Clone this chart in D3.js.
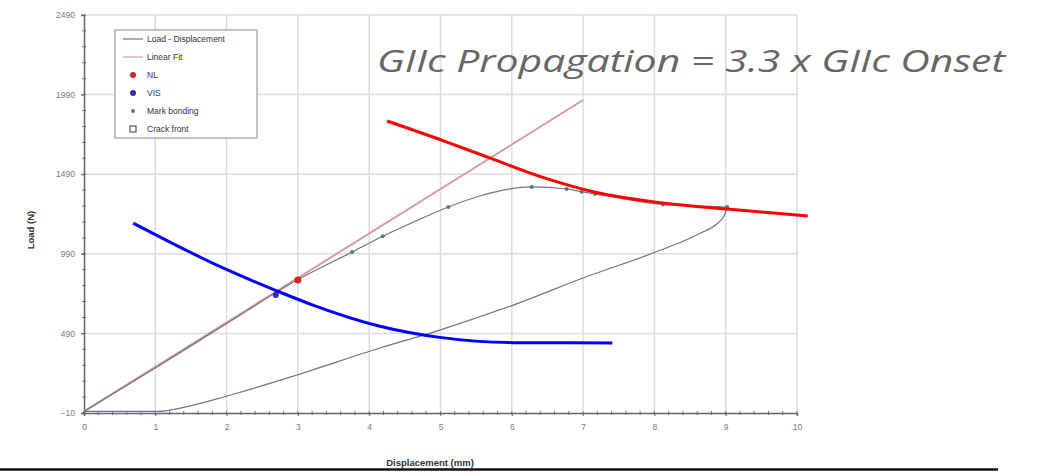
<!DOCTYPE html>
<html lang="en">
<head>
<meta charset="utf-8">
<script src="https://d3js.org/d3.v7.min.js"></script>
<style>
  body { margin: 0; background: #fff; }
  svg text { font-family: "Liberation Sans", Arial, sans-serif; }
</style>
</head>
<body>
<div id="chart"></div>

<script>
  // axis ticks
  var xTicks = [0, 1, 2, 3, 4, 5, 6, 7, 8, 9, 10]
  var yTicks = [-10, 490, 990, 1490, 1990, 2490]

  // load - displacement curve, mm / N
  var loading = [
    [0, 0], [1, 272], [2, 552], [3, 828], [3.76, 1001], [4.19, 1100],
    [4.6, 1185], [5.11, 1284], [5.55, 1353], [6.28, 1410], [6.77, 1397],
    [6.98, 1380], [7.17, 1366], [8.12, 1300], [9.02, 1284]
  ]
  var unloading = [
    [0, 0], [1.05, 0], [1.35, 21], [2.01, 97], [2.99, 229], [4.15, 398],
    [4.99, 511], [6.02, 668], [7.0, 838], [7.98, 995], [8.6, 1110],
    [8.88, 1180], [8.98, 1230], [9.02, 1284]
  ]
  var linearFit = [[0, 0], [7.0, 1956]]
  var nlPoints = [[3.0, 825]]
  var visPoints = [[2.69, 731]]
  var markBonding = [
    [3.76, 1001], [4.19, 1100], [5.11, 1284], [6.28, 1410], [6.77, 1397],
    [6.98, 1380], [7.17, 1366], [8.12, 1300], [9.02, 1284]
  ]
  var crackFront = []

  // hand drawn annotation curves
  var propCurve = [
    [4.25, 1824], [5.09, 1692], [5.69, 1592], [6.49, 1462], [7.14, 1380],
    [8.12, 1309], [9.02, 1271], [10.15, 1227]
  ]
  var onsetCurve = [
    [0.69, 1183], [1.95, 901], [2.71, 756], [3.21, 668], [4.15, 535],
    [4.99, 465], [6.02, 432], [7.41, 430]
  ]

  var legendItems = ["Load - Displacement", "Linear Fit", "NL", "VIS", "Mark bonding", "Crack front"]

  var W = 1041, H = 476
  var svg = d3.select('#chart').append('svg').attr('width', W).attr('height', H)

  var x = d3.scaleLinear().domain([0, 10]).range([84, 797])
  var y = d3.scaleLinear().domain([-10, 2490]).range([413, 15])

  // grid
  svg.append('g').selectAll('line.gx')
    .data(xTicks.slice(1)).enter().append('line')
    .attr('x1', function(d){ return x(d) }).attr('x2', function(d){ return x(d) })
    .attr('y1', y(2490)).attr('y2', y(-10))
    .attr('stroke', '#dcdcdc').attr('stroke-width', 1.5)
  svg.append('g').selectAll('line.gy')
    .data(yTicks.slice(1)).enter().append('line')
    .attr('x1', x(0)).attr('x2', x(10))
    .attr('y1', function(d){ return y(d) }).attr('y2', function(d){ return y(d) })
    .attr('stroke', '#dcdcdc').attr('stroke-width', 1.5)

  // minor ticks
  var xMinor = d3.range(0, 10.001, 0.2)
  var yMinor = d3.range(-10, 2490.001, 100)
  svg.append('g').selectAll('line')
    .data(xMinor).enter().append('line')
    .attr('x1', function(d){ return x(d) }).attr('x2', function(d){ return x(d) })
    .attr('y1', y(-10) - 2).attr('y2', y(-10) + 2)
    .attr('stroke', '#777').attr('stroke-width', 1)
  svg.append('g').selectAll('line')
    .data(yMinor).enter().append('line')
    .attr('x1', x(0) - 2).attr('x2', x(0) + 2)
    .attr('y1', function(d){ return y(d) }).attr('y2', function(d){ return y(d) })
    .attr('stroke', '#777').attr('stroke-width', 1)

  // axes
  var xAxis = svg.append('g').attr('transform', 'translate(0,' + y(-10) + ')')
    .call(d3.axisBottom(x).tickValues(xTicks).tickSize(3).tickPadding(8).tickFormat(d3.format('d')))
  var yAxis = svg.append('g').attr('transform', 'translate(' + x(0) + ',0)')
    .call(d3.axisLeft(y).tickValues(yTicks).tickSize(3).tickPadding(6).tickFormat(d3.format('d')))
  ;[xAxis, yAxis].forEach(function(a){
    a.select('.domain').attr('stroke', '#666').attr('stroke-width', 1.5)
    a.selectAll('.tick line').attr('stroke', '#666')
    a.selectAll('.tick text').attr('fill', '#777').style('font-size', '8.5px')
  })

  // axis titles
  svg.append('text').attr('x', 430).attr('y', 466).attr('text-anchor', 'middle')
    .style('font-size', '9.5px').style('font-weight', 'bold').attr('fill', '#333')
    .text('Displacement (mm)')
  svg.append('text').attr('transform', 'translate(34,230) rotate(-90)').attr('text-anchor', 'middle')
    .style('font-size', '9.5px').style('font-weight', 'bold').attr('fill', '#333')
    .text('Load (N)')

  // bottom rule
  svg.append('line').attr('x1', 0).attr('x2', 998).attr('y1', 469.5).attr('y2', 469.5)
    .attr('stroke', '#111').attr('stroke-width', 2.5)

  var line = d3.line().x(function(d){ return x(d[0]) }).y(function(d){ return y(d[1]) })
  var mono = d3.line().x(function(d){ return x(d[0]) }).y(function(d){ return y(d[1]) })
    .curve(d3.curveMonotoneX)

  // linear fit
  svg.append('path').datum(linearFit).attr('d', line)
    .attr('fill', 'none').attr('stroke', '#d99aa2').attr('stroke-width', 2)

  // load displacement
  ;[loading, unloading].forEach(function(seg){
    svg.append('path').datum(seg).attr('d', mono)
      .attr('fill', 'none').attr('stroke', '#72728a').attr('stroke-width', 1.2)
  })

  // markers
  svg.append('g').selectAll('circle').data(markBonding).enter().append('circle')
    .attr('cx', function(d){ return x(d[0]) }).attr('cy', function(d){ return y(d[1]) })
    .attr('r', 2).attr('fill', '#5a7a6a')
  svg.append('g').selectAll('circle').data(nlPoints).enter().append('circle')
    .attr('cx', function(d){ return x(d[0]) }).attr('cy', function(d){ return y(d[1]) })
    .attr('r', 3.5).attr('fill', '#d42020')
  svg.append('g').selectAll('circle').data(visPoints).enter().append('circle')
    .attr('cx', function(d){ return x(d[0]) }).attr('cy', function(d){ return y(d[1]) })
    .attr('r', 3).attr('fill', '#3030b0')
  svg.append('g').selectAll('rect').data(crackFront).enter().append('rect')
    .attr('x', function(d){ return x(d[0]) - 3 }).attr('y', function(d){ return y(d[1]) - 3 })
    .attr('width', 6).attr('height', 6).attr('fill', 'none').attr('stroke', '#333')

  // annotation curves
  svg.append('path').datum(propCurve).attr('d', mono)
    .attr('fill', 'none').attr('stroke', '#ff0000').attr('stroke-width', 3)
  svg.append('path').datum(onsetCurve).attr('d', mono)
    .attr('fill', 'none').attr('stroke', '#0000ff').attr('stroke-width', 3)

  // legend
  var lg = svg.append('g').attr('transform', 'translate(115,30)')
  lg.append('rect').attr('width', 142).attr('height', 108)
    .attr('fill', '#fff').attr('stroke', '#888').attr('stroke-width', 1)
  var row = lg.selectAll('g.item').data(legendItems).enter().append('g')
    .attr('transform', function(d, i){ return 'translate(0,' + (9 + i * 18) + ')' })
  row.append('text').attr('x', 32).attr('y', 3).style('font-size', '8.5px').attr('fill', '#333')
    .text(function(d){ return d })
  row.filter(function(d, i){ return i < 2 }).append('line')
    .attr('x1', 8).attr('x2', 28).attr('y1', 0).attr('y2', 0)
    .attr('stroke', function(d, i){ return i == 0 ? '#72728a' : '#c9a0a6' }).attr('stroke-width', 1.2)
  row.filter(function(d, i){ return i >= 2 && i < 5 }).append('circle')
    .attr('cx', 18).attr('cy', 0)
    .attr('r', function(d){ return d == 'Mark bonding' ? 2 : 3 })
    .attr('fill', function(d){ return d == 'NL' ? '#d42020' : d == 'VIS' ? '#3030b0' : '#5a7a6a' })
  row.filter(function(d, i){ return i == 5 }).append('rect')
    .attr('x', 15).attr('y', -3).attr('width', 6).attr('height', 6)
    .attr('fill', '#fff').attr('stroke', '#333')

  // headline
  svg.append('text').attr('x', 377).attr('y', 72)
    .attr('textLength', 628).attr('lengthAdjust', 'spacingAndGlyphs')
    .style('font-family', '"Open Sans", "DejaVu Sans", sans-serif')
    .style('font-style', 'italic').style('font-size', '31px').attr('fill', '#666')
    .text('GIIc Propagation = 3.3 x GIIc Onset')
</script>
</body>
</html>
